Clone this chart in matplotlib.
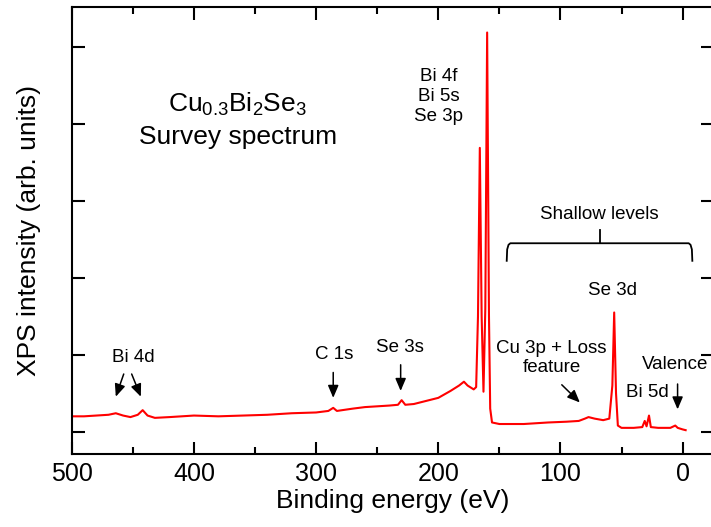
import numpy as np
import matplotlib
matplotlib.use("Agg")
import matplotlib.pyplot as plt
from matplotlib.ticker import MultipleLocator

plt.rcParams['font.family'] = ['Liberation Sans', 'DejaVu Sans']
plt.rcParams['mathtext.fontset'] = 'custom'
plt.rcParams['mathtext.rm'] = 'Liberation Sans'
plt.rcParams['mathtext.it'] = 'Liberation Sans'
plt.rcParams['mathtext.default'] = 'regular'

# survey spectrum (binding energy in eV, intensity in arb. units)
energy = [500, 490, 480, 470, 464, 458, 452, 446, 442, 438, 432, 420, 400, 380,
          360, 340, 320, 300, 290, 286, 283, 270, 260, 250, 240, 233, 230, 227,
          220, 210, 200, 190, 183, 179, 176, 173, 171, 169, 167.5, 166, 164.5,
          163, 161.5, 160, 158.5, 157.5, 156, 150, 130, 110, 95, 85, 80, 77,
          72, 65, 60, 57.5, 56, 54.5, 53, 50, 40, 33, 31, 29.5, 27.5, 26, 20,
          10, 6, 4, 0, -2.5]
intensity = [0.20, 0.20, 0.21, 0.22, 0.24, 0.21, 0.19, 0.22, 0.28, 0.21, 0.18,
             0.19, 0.21, 0.20, 0.21, 0.22, 0.24, 0.25, 0.27, 0.31, 0.27, 0.30,
             0.32, 0.33, 0.34, 0.35, 0.41, 0.35, 0.36, 0.40, 0.44, 0.53, 0.60,
             0.65, 0.60, 0.57, 0.55, 0.58, 1.5, 3.69, 1.5, 0.52, 1.6, 5.19, 1.5,
             0.3, 0.12, 0.10, 0.10, 0.12, 0.13, 0.14, 0.17, 0.19, 0.17, 0.15,
             0.17, 0.6, 1.55, 0.5, 0.08, 0.05, 0.05, 0.06, 0.14, 0.07, 0.21,
             0.06, 0.05, 0.05, 0.08, 0.05, 0.03, 0.02]

fig = plt.figure(figsize=(7.11, 5.27), dpi=100)
ax = fig.add_axes([0.101, 0.1385, 0.902, 0.848])

ax.plot(energy, intensity, color='#ff0000', lw=1.5)

ax.set_xlim(500, -25)
ax.set_ylim(-0.29, 5.52)
ax.xaxis.set_major_locator(MultipleLocator(100))
ax.xaxis.set_minor_locator(MultipleLocator(50))
ax.yaxis.set_major_locator(MultipleLocator(1))
ax.set_yticklabels([])
ax.tick_params(which='both', direction='in', top=True, right=True, width=1.5,
               labelsize=18, pad=6)
ax.tick_params(which='major', length=9)
ax.tick_params(which='minor', length=5)
for s in ax.spines.values():
    s.set_linewidth(1.5)

ax.set_xlabel('Binding energy (eV)', fontsize=19, labelpad=2)
ax.set_ylabel('XPS intensity (arb. units)', fontsize=19, labelpad=16)

ax.text(364, 4.25, r'Cu$_{0.3}$Bi$_2$Se$_3$', fontsize=19, ha='center', va='center')
ax.text(364, 3.83, 'Survey spectrum', fontsize=19, ha='center', va='center')

fs = 13.5
ax.text(199.5, 4.36, 'Bi 4f\nBi 5s\nSe 3p', fontsize=fs, ha='center', va='center',
        linespacing=1.25)
ax.text(68.4, 2.83, 'Shallow levels', fontsize=fs, ha='center', va='center')
ax.text(57.7, 1.84, 'Se 3d', fontsize=fs, ha='center', va='center')
ax.text(28.9, 0.51, 'Bi 5d', fontsize=fs, ha='center', va='center')

arrow = dict(arrowstyle='-|>,head_length=0.75,head_width=0.32', color='k', lw=1.1,
             mutation_scale=10, shrinkA=0, shrinkB=0)
ax.text(450, 0.96, 'Bi 4d', fontsize=fs, ha='center', va='center')
ax.annotate('', xy=(464, 0.455), xytext=(457.5, 0.75), arrowprops=arrow)
ax.annotate('', xy=(443.5, 0.455), xytext=(451, 0.75), arrowprops=arrow)
ax.text(285.2, 1.0, 'C 1s', fontsize=fs, ha='center', va='center')
ax.annotate('', xy=(286, 0.44), xytext=(286, 0.77), arrowprops=arrow)
ax.text(231.7, 1.09, 'Se 3s', fontsize=fs, ha='center', va='center')
ax.annotate('', xy=(230.8, 0.53), xytext=(230.8, 0.87), arrowprops=arrow)
ax.text(107.2, 0.96, 'Cu 3p + Loss\nfeature', fontsize=fs, ha='center', va='center',
        linespacing=1.15)
ax.annotate('', xy=(84.1, 0.38), xytext=(98.9, 0.61), arrowprops=arrow)
ax.text(5.8, 0.87, 'Valence', fontsize=fs, ha='center', va='center')
ax.annotate('', xy=(4.1, 0.29), xytext=(4.1, 0.62), arrowprops=arrow)

# bracket over the shallow levels
bx = [144, 143.6, 142.5, 141, -5, -6.5, -7.6, -8]
by = [2.21, 2.37, 2.43, 2.45, 2.45, 2.43, 2.37, 2.21]
ax.plot(bx, by, color='k', lw=1.3, solid_capstyle='butt')
ax.plot([67.6, 67.6], [2.45, 2.62], color='k', lw=1.3)

fig.savefig('out.png', dpi=100)
